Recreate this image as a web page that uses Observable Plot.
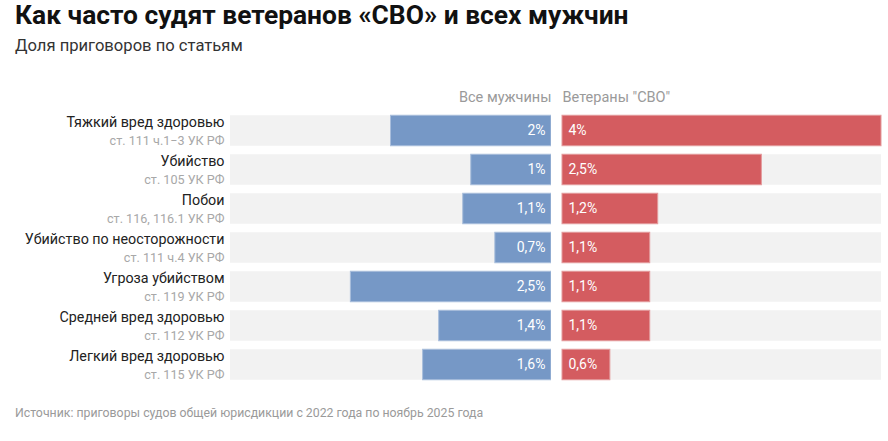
<!DOCTYPE html>
<html>
<head>
<meta charset="utf-8">
<script src="https://cdn.jsdelivr.net/npm/d3@7"></script>
<script src="https://cdn.jsdelivr.net/npm/@observablehq/plot@0.6"></script>
<style>
  body { margin: 0; background: #fff; font-family: Roboto, "Noto Sans", sans-serif; }
  #wrap { width: 888px; height: 441px; position: relative; overflow: hidden; }
  h1 { margin: 0; padding: 0 0 0 15px; font-size: 26.4px; font-weight: 700; color: #111; height: 32px; line-height: 30px; }
  .sub { padding-left: 15px; font-size: 16.6px; color: #333; height: 32px; line-height: 28px; }
  #charts { display: flex; height: 330px; }
  .src { padding-left: 15px; font-size: 12.3px; color: #9a9a9a; line-height: 16px; margin-top: 11px; }
</style>
</head>
<body>
<div id="wrap">
  <h1>Как часто судят ветеранов «СВО» и всех мужчин</h1>
  <div class="sub">Доля приговоров по статьям</div>
  <div id="charts"></div>
  <div class="src">Источник: приговоры судов общей юрисдикции с 2022 года по ноябрь 2025 года</div>
</div>
<script>
// Share of sentences by article of the Criminal Code, %
const categories = [
  "Тяжкий вред здоровью",
  "Убийство",
  "Побои",
  "Убийство по неосторожности",
  "Угроза убийством",
  "Средней вред здоровью",
  "Легкий вред здоровью"
];
const articles = [
  "ст. 111 ч.1−3 УК РФ",
  "ст. 105 УК РФ",
  "ст. 116, 116.1 УК РФ",
  "ст. 111 ч.4 УК РФ",
  "ст. 119 УК РФ",
  "ст. 112 УК РФ",
  "ст. 115 УК РФ"
];
const allMen = [2, 1, 1.1, 0.7, 2.5, 1.4, 1.6];
const veterans = [4, 2.5, 1.2, 1.1, 1.1, 1.1, 0.6];
const groupNames = ["Все мужчины", "Ветераны \"СВО\""];
const maxShare = 4;

const rows = categories.map((c, i) => ({cat: c, art: articles[i], men: allMen[i], vet: veterans[i]}));
const fmt = v => String(v).replace(".", ",") + "%";

const H = 330, MT = 44.75, MB = 8.75;
const yScale = {domain: categories, padding: 0, axis: null};
const inset = 4.25;

const left = Plot.plot({
  width: 551, height: H,
  marginLeft: 230, marginRight: 0, marginTop: MT, marginBottom: MB,
  x: {domain: [0, maxShare], reverse: true, axis: null},
  y: yScale,
  marks: [
    Plot.barX(rows, {y: "cat", x1: 0, x2: maxShare, fill: "#f2f2f2", insetTop: inset, insetBottom: inset}),
    Plot.barX(rows, {y: "cat", x1: 0, x2: "men", fill: "#7698c6", stroke: "#a9bedc", strokeWidth: 1, insetTop: inset, insetBottom: inset}),
    Plot.text(rows, {y: "cat", text: d => fmt(d.men), frameAnchor: "right", textAnchor: "end", dx: -6, fill: "#fff", fontSize: 14, fontWeight: 400}),
    Plot.text(rows, {y: "cat", text: "cat", frameAnchor: "left", textAnchor: "end", dx: -6, dy: -8.5, fill: "#222", fontSize: 14.3}),
    Plot.text(rows, {y: "cat", text: "art", frameAnchor: "left", textAnchor: "end", dx: -6, dy: 9.5, fill: "#a8a8a8", fontSize: 12.6}),
    Plot.text([groupNames[0]], {text: d => d, frameAnchor: "top-right", textAnchor: "end", lineAnchor: "middle", dy: -12, fill: "#9a9a9a", fontSize: 14.5})
  ]
});

const right = Plot.plot({
  width: 337, height: H,
  marginLeft: 11, marginRight: 7, marginTop: MT, marginBottom: MB,
  x: {domain: [0, maxShare], axis: null},
  y: yScale,
  marks: [
    Plot.barX(rows, {y: "cat", x1: 0, x2: maxShare, fill: "#f2f2f2", insetTop: inset, insetBottom: inset}),
    Plot.barX(rows, {y: "cat", x1: 0, x2: "vet", fill: "#d45c60", stroke: "#e49a9c", strokeWidth: 1, insetTop: inset, insetBottom: inset}),
    Plot.text(rows, {y: "cat", text: d => fmt(d.vet), frameAnchor: "left", textAnchor: "start", dx: 6, fill: "#fff", fontSize: 14, fontWeight: 400}),
    Plot.text([groupNames[1]], {text: d => d, frameAnchor: "top-left", textAnchor: "start", lineAnchor: "middle", dy: -12, fill: "#9a9a9a", fontSize: 14.5})
  ]
});

for (const svg of [left, right]) {
  svg.style.fontFamily = "Roboto, sans-serif";
  svg.style.background = "transparent";
  document.getElementById("charts").appendChild(svg);
}
</script>
</body>
</html>
